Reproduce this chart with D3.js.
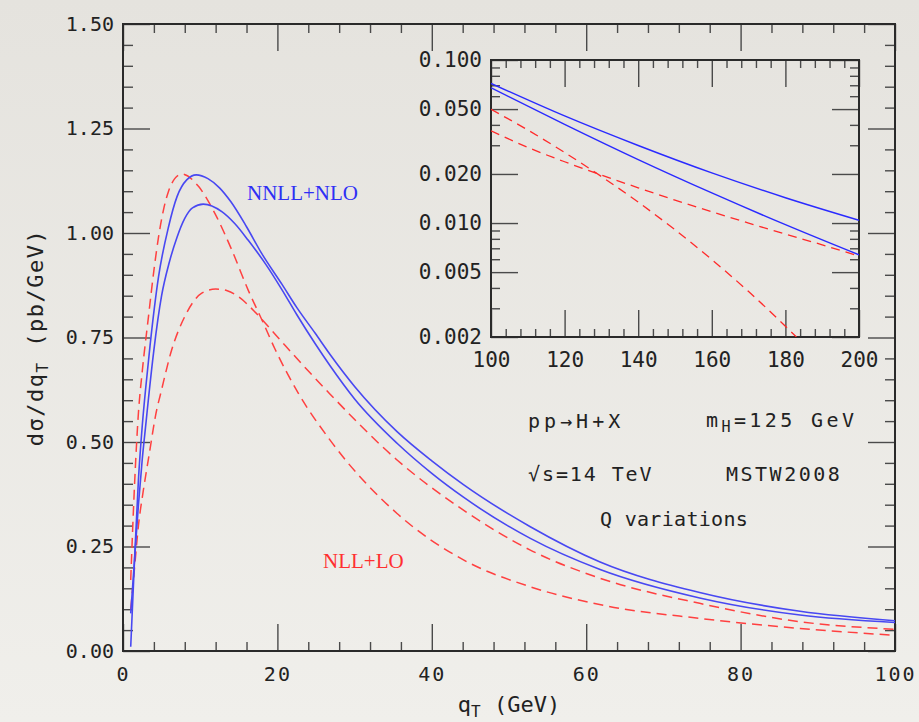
<!DOCTYPE html>
<html lang="en">
<head>
<meta charset="UTF-8">
<title>Higgs qT spectrum, Q variations</title>
<script src="https://d3js.org/d3.v7.min.js"></script>
<style>
  body { margin: 0; background: #ebe9e4; }
  svg { display: block; }
</style>
</head>
<body>
<svg id="chart" width="919" height="722"></svg>
<script>
// ---- data ----
// main panel, qT (GeV) vs dsigma/dqT (pb/GeV)
const nnllUpper = [[1,0.01],[1.5,0.22],[2,0.41],[2.5,0.54],[3,0.64],[3.5,0.73],[4.6,0.895],[5.9,1.015],[7,1.087],[8.25,1.127],[9.5,1.139],[11,1.13],[12.5,1.108],[14,1.074],[16,1.015],[18,0.95],[20.6,0.877],[22.5,0.822],[24.9,0.76],[26.8,0.71],[30,0.633],[35.5,0.525],[40,0.455],[44.1,0.398],[52.7,0.298],[61.8,0.213],[74.7,0.14],[87.7,0.095],[100,0.0725]];
const nnllLower = [[1,0.09],[1.5,0.22],[2,0.35],[2.5,0.46],[3,0.55],[3.3,0.604],[4,0.72],[5,0.85],[6,0.93],[7,0.99],[8,1.035],[9,1.06],[10.4,1.069],[12.8,1.051],[14.5,1.022],[16.2,0.983],[18.5,0.925],[20.6,0.864],[22.5,0.805],[24.9,0.735],[26.8,0.683],[30,0.603],[35.5,0.497],[40,0.425],[44.1,0.368],[52.7,0.27],[61.8,0.195],[74.7,0.127],[87.7,0.086],[100,0.068]];
const nllUpper = [[1,0.17],[1.5,0.4],[2,0.57],[2.5,0.67],[3.3,0.8],[4,0.91],[4.6,0.99],[5.3,1.06],[5.9,1.1],[6.7,1.13],[7.6,1.141],[9.8,1.111],[11.9,1.047],[14.1,0.959],[16.2,0.864],[18,0.792],[19.7,0.722],[22.7,0.617],[26.8,0.505],[35.5,0.329],[44.1,0.218],[52.7,0.154],[62.6,0.108],[74.7,0.078],[87.7,0.054],[100,0.0375]];
const nllLower = [[1,0.1],[1.5,0.2],[2,0.3],[2.6,0.38],[3.3,0.46],[4.4,0.58],[4.8,0.61],[6.3,0.72],[8,0.8],[10.2,0.856],[12,0.866],[13.5,0.862],[15,0.847],[17,0.813],[19.7,0.758],[23,0.69],[26.8,0.615],[35.5,0.457],[44.1,0.337],[52.7,0.242],[61.8,0.174],[74.7,0.114],[87.7,0.07],[100,0.052]];

// inset, log scale
const insetNnllUpper = [[100,0.0719],[120,0.0454],[140,0.0299],[160,0.0203],[180,0.0143],[200,0.0104]];
const insetNnllLower = [[100,0.0676],[120,0.0403],[140,0.0245],[160,0.0153],[180,0.00977],[200,0.00638]];
const insetNllA = [[100,0.0498],[110,0.0372],[120,0.0271],[130,0.0193],[140,0.01343],[150,0.00909],[160,0.00597],[170,0.0038],[180,0.00233],[183,0.002]];
const insetNllB = [[100,0.0368],[110,0.0291],[120,0.02376],[130,0.01968],[140,0.01645],[150,0.01382],[160,0.01172],[170,0.00999],[180,0.00855],[190,0.00735],[200,0.00626]];

const xTicks = [0, 20, 40, 60, 80, 100];
const yTicks = [0, 0.25, 0.5, 0.75, 1.0, 1.25, 1.5];
const insetXTicks = [100, 120, 140, 160, 180, 200];
const insetYTicks = [0.002, 0.005, 0.01, 0.02, 0.05, 0.1];
const insetYLabels = ["0.002", "0.005", "0.010", "0.020", "0.050", "0.100"];

// ---- layout ----
const width = 919, height = 722;
const main = { left: 123, right: 895, top: 24, bottom: 651 };
const ins = { left: 491, right: 859, top: 60, bottom: 337 };
const monoFont = "'DejaVu Sans Mono', 'Liberation Mono', monospace";
const serifFont = "'Liberation Serif', 'DejaVu Serif', serif";
const blue = "#4848f2", red = "#ff4040";

const svg = d3.select("#chart").attr("width", width).attr("height", height);

const defs = svg.append("defs");
const grad = defs.append("linearGradient").attr("id", "paper")
    .attr("x1", 0).attr("y1", 0).attr("x2", 0).attr("y2", 1);
grad.append("stop").attr("offset", "0%").attr("stop-color", "#e5e3de");
grad.append("stop").attr("offset", "100%").attr("stop-color", "#f0efeb");
svg.append("rect").attr("width", width).attr("height", height).attr("fill", "url(#paper)");

defs.append("clipPath").attr("id", "clipMain").append("rect")
    .attr("x", main.left).attr("y", main.top)
    .attr("width", main.right - main.left).attr("height", main.bottom - main.top);
defs.append("clipPath").attr("id", "clipInset").append("rect")
    .attr("x", ins.left).attr("y", ins.top)
    .attr("width", ins.right - ins.left).attr("height", ins.bottom - ins.top);

const x = d3.scaleLinear().domain([0, 100]).range([main.left, main.right]);
const y = d3.scaleLinear().domain([0, 1.5]).range([main.bottom, main.top]);
const ix = d3.scaleLinear().domain([100, 200]).range([ins.left, ins.right]);
const iy = d3.scaleLog().domain([0.002, 0.1]).range([ins.bottom, ins.top]);

// inward ticks on all four sides, major + minor
function frameAxes(xs, ys, box, xMajor, xMinor, yMajor, yMinor, opts) {
    const g = svg.append("g");
    const put = (axis, tx, ty, labels) => {
        const a = g.append("g").attr("transform", `translate(${tx},${ty})`).call(axis);
        a.select(".domain").remove();
        a.selectAll("line").attr("stroke", "#4a4a4a").attr("stroke-width", 1.4);
        a.selectAll("text").attr("fill", "#222").style("font-family", monoFont)
            .style("font-size", opts.fontSize + "px")
            .style("letter-spacing", labels === "x" ? opts.xSpacing + "px" : "0px");
        if (!labels) a.selectAll("text").remove();
        return a;
    };
    // bottom
    put(d3.axisBottom(xs).tickValues(xMajor).tickSize(-opts.major).tickSizeOuter(0)
        .tickPadding(opts.xPad).tickFormat(opts.xFormat), 0, box.bottom, "x");
    put(d3.axisBottom(xs).tickValues(xMinor).tickSize(-opts.minorX).tickSizeOuter(0), 0, box.bottom, null);
    // top
    put(d3.axisTop(xs).tickValues(xMajor).tickSize(-opts.major).tickSizeOuter(0), 0, box.top, null);
    put(d3.axisTop(xs).tickValues(xMinor).tickSize(-opts.minorX).tickSizeOuter(0), 0, box.top, null);
    // left
    put(d3.axisLeft(ys).tickValues(yMajor).tickSize(-opts.major).tickSizeOuter(0)
        .tickPadding(opts.yPad).tickFormat(opts.yFormat), box.left, 0, "y");
    put(d3.axisLeft(ys).tickValues(yMinor).tickSize(-opts.minorY).tickSizeOuter(0), box.left, 0, null);
    // right
    put(d3.axisRight(ys).tickValues(yMajor).tickSize(-opts.major).tickSizeOuter(0), box.right, 0, null);
    put(d3.axisRight(ys).tickValues(yMinor).tickSize(-opts.minorY).tickSizeOuter(0), box.right, 0, null);
    // frame
    g.append("rect").attr("x", box.left).attr("y", box.top)
        .attr("width", box.right - box.left).attr("height", box.bottom - box.top)
        .attr("fill", "none").attr("stroke", "#2a2a2a").attr("stroke-width", 2);
}

// main panel axes
const mainXMinor = d3.range(0, 101, 4).filter(v => v % 20 !== 0);
const mainYMinor = d3.range(0, 31).map(i => i * 0.05).filter(v => Math.abs(v / 0.25 - Math.round(v / 0.25)) > 1e-6);
frameAxes(x, y, main, xTicks, mainXMinor, yTicks, mainYMinor, {
    major: 27, minorX: 9, minorY: 10, fontSize: 20, xPad: 16, yPad: 9, xSpacing: 2,
    xFormat: d3.format("d"), yFormat: d3.format(".2f")
});

// inset axes
const insetXMinor = d3.range(100, 201, 4).filter(v => v % 20 !== 0);
const insetYMinor = [];
[0.001, 0.01].forEach(dec => d3.range(1, 10).forEach(m => {
    const v = +(m * dec).toPrecision(3);
    if (v > 0.002 && v < 0.1 && !insetYTicks.includes(v)) insetYMinor.push(v);
}));
frameAxes(ix, iy, ins, insetXTicks, insetXMinor, insetYTicks, insetYMinor, {
    major: 27, minorX: 8, minorY: 9, fontSize: 21, xPad: 15, yPad: 9, xSpacing: 0,
    xFormat: d3.format("d"), yFormat: (d) => insetYLabels[insetYTicks.indexOf(d)]
});

// ---- curves ----
const mainLine = d3.line().x(d => x(d[0])).y(d => y(d[1])).curve(d3.curveMonotoneX);
const insetLine = d3.line().x(d => ix(d[0])).y(d => iy(d[1])).curve(d3.curveMonotoneX);

const mainCurves = svg.append("g").attr("clip-path", "url(#clipMain)");
[nllUpper, nllLower].forEach(s => mainCurves.append("path").datum(s)
    .attr("d", mainLine).attr("fill", "none").attr("stroke", red)
    .attr("stroke-width", 1.5).attr("stroke-dasharray", "10,6"));
[nnllUpper, nnllLower].forEach(s => mainCurves.append("path").datum(s)
    .attr("d", mainLine).attr("fill", "none").attr("stroke", blue)
    .attr("stroke-width", 1.6));

const insetCurves = svg.append("g").attr("clip-path", "url(#clipInset)");
[insetNllA, insetNllB].forEach(s => insetCurves.append("path").datum(s)
    .attr("d", insetLine).attr("fill", "none").attr("stroke", "#ff2a2a")
    .attr("stroke-width", 1.3).attr("stroke-dasharray", "9,6"));
[insetNnllUpper, insetNnllLower].forEach(s => insetCurves.append("path").datum(s)
    .attr("d", insetLine).attr("fill", "none").attr("stroke", "#2a2aff")
    .attr("stroke-width", 1.4));

// ---- labels ----
svg.append("text").attr("x", 247).attr("y", 200)
    .style("font-family", serifFont).style("font-size", "21px").attr("fill", "#2f2ff5")
    .text("NNLL+NLO");
svg.append("text").attr("x", 323).attr("y", 568)
    .style("font-family", serifFont).style("font-size", "21px").attr("fill", "#ff3030")
    .text("NLL+LO");

function note(px, py, spacing, parts) {
    const t = svg.append("text").attr("x", px).attr("y", py)
        .style("font-family", monoFont).style("font-size", "20px")
        .style("letter-spacing", spacing + "px").attr("fill", "#222");
    parts.forEach(p => {
        const s = t.append("tspan").text(p.text);
        if (p.sub) s.attr("dy", 5).style("font-size", "15px");
        if (p.back) s.attr("dy", -5);
    });
}
note(528, 428, 4, [{ text: "pp→H+X" }]);
note(706, 427, 3.4, [{ text: "m" }, { text: "H", sub: true }, { text: "=125 GeV", back: true }]);
note(528, 481, 1.9, [{ text: "√s=14 TeV" }]);
note(726, 481, 2.5, [{ text: "MSTW2008" }]);
note(600, 526, 0.3, [{ text: "Q variations" }]);

// axis titles
const xt = svg.append("text").attr("x", (main.left + main.right) / 2).attr("y", 712)
    .attr("text-anchor", "middle").style("font-family", monoFont)
    .style("font-size", "22px").attr("fill", "#222");
xt.append("tspan").text("q");
xt.append("tspan").attr("dy", 5).style("font-size", "16px").text("T");
xt.append("tspan").attr("dy", -5).text(" (GeV)");

const yt = svg.append("text")
    .attr("transform", `translate(43,${(main.top + main.bottom) / 2}) rotate(-90)`)
    .attr("text-anchor", "middle").style("font-family", monoFont)
    .style("font-size", "22px").style("letter-spacing", "1.5px").attr("fill", "#222");
yt.append("tspan").text("dσ/dq");
yt.append("tspan").attr("dy", 5).style("font-size", "16px").text("T");
yt.append("tspan").attr("dy", -5).text(" (pb/GeV)");
</script>
</body>
</html>
